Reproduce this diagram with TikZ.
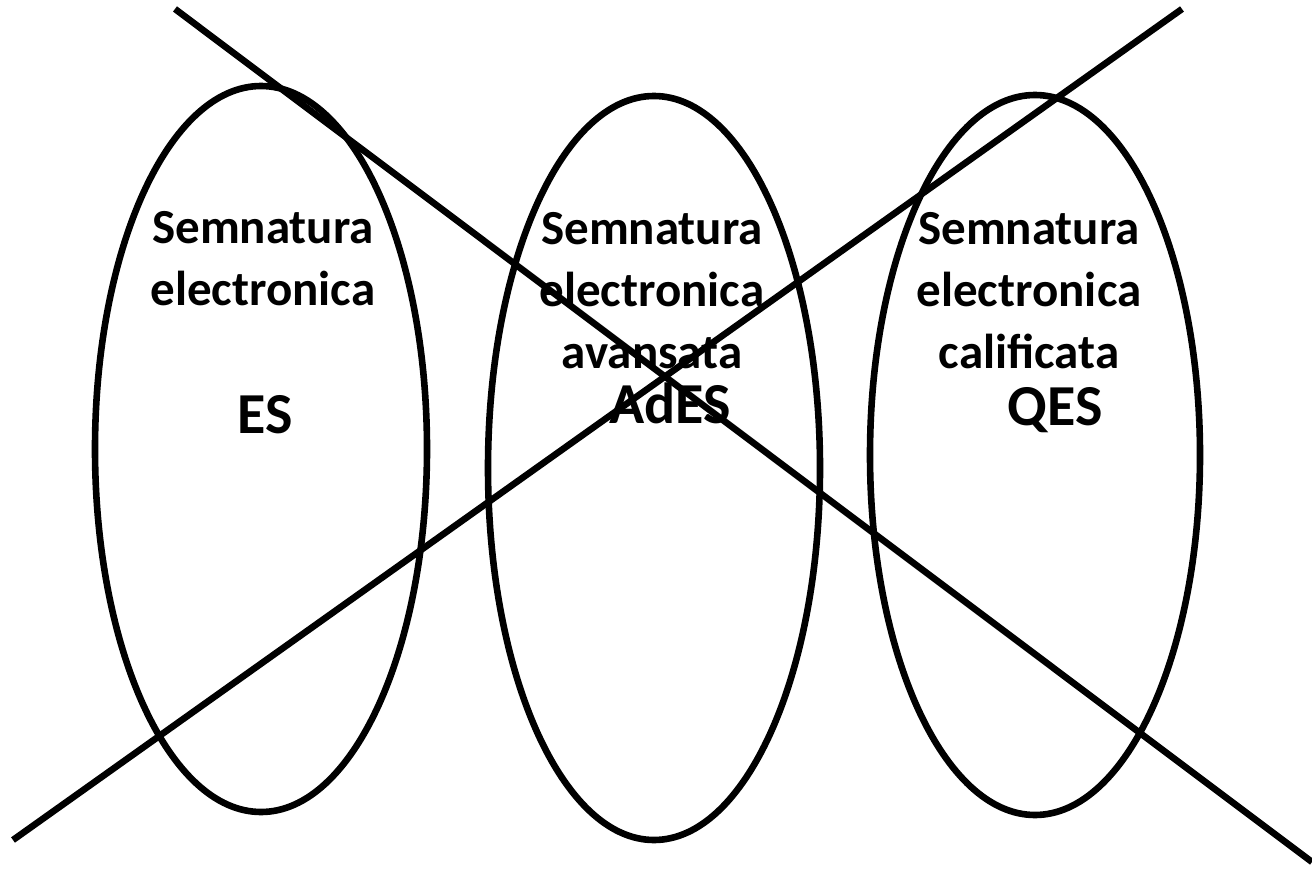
\documentclass[tikz,border=0pt]{standalone}
\usepackage{fontspec}
\setmainfont{Carlito}
\begin{document}
\begin{tikzpicture}[x=0.5pt,y=-0.5pt,line width=3.3pt,
  sigtext/.style={font=\bfseries\fontsize{24.5}{31}\selectfont,align=center,inner sep=0pt,anchor=north},
  sigabbr/.style={font=\bfseries\fontsize{29}{34}\selectfont,inner sep=0pt,anchor=base}]
  \useasboundingbox (0,0) rectangle (1312,877);

  % the three kinds of signature
  \draw (261,449) ellipse [x radius=166, y radius=363];
  \draw (654,468) ellipse [x radius=166, y radius=372];
  \draw (1035,455) ellipse [x radius=165, y radius=360];

  \node[sigtext] (es) at (263,208) {Semnatura\\electronica};
  \node[sigabbr] (esabbr) at (265,433) {ES};

  \node[sigtext] (ades) at (652,209) {Semnatura\\electronica\\avansata};
  \node[sigabbr] (adesabbr) at (670,423) {AdES};

  \node[sigtext] (qes) at (1029,209) {Semnatura\\electronica\\calificata};
  \node[sigabbr] (qesabbr) at (1055,425) {QES};

  % crossing out
  \coordinate (A1) at (175,9);
  \coordinate (A2) at (1312,862);
  \coordinate (B1) at (13,840);
  \coordinate (B2) at (1182,9);
  \draw (A1) -- (A2);
  \draw (B1) -- (B2);
\end{tikzpicture}
\end{document}
